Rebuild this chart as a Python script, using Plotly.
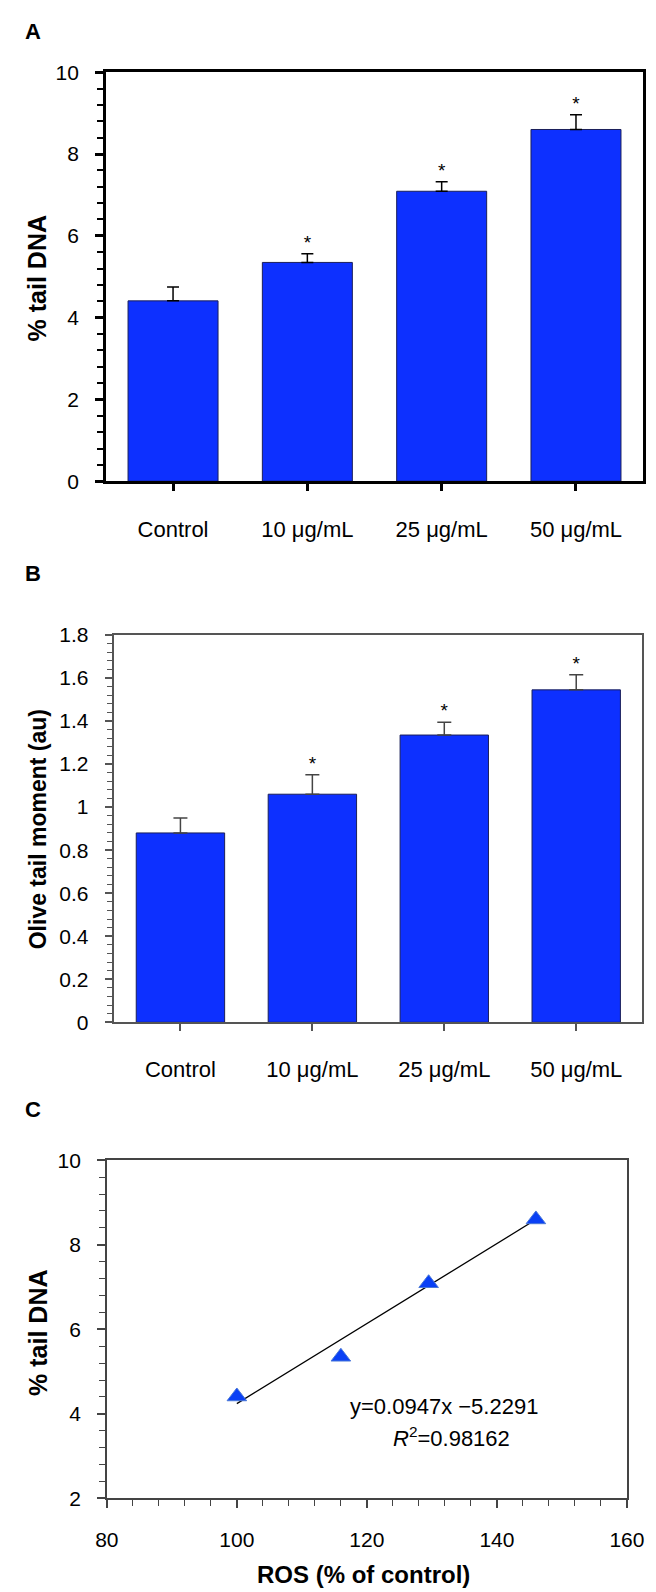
import plotly.graph_objects as go

W, H = 656, 1592

# --- data ---
categories = ['Control', '10 μg/mL', '25 μg/mL', '50 μg/mL']
tail_dna = [4.41, 5.35, 7.09, 8.60]
tail_dna_err = [0.34, 0.21, 0.23, 0.36]
olive_moment = [0.88, 1.06, 1.335, 1.545]
olive_moment_err = [0.07, 0.09, 0.06, 0.07]
significant = [False, True, True, True]

ros = [100, 116, 129.5, 146]
slope, intercept = 0.0947, -5.2291
r_squared = 0.98162

BAR_BLUE = '#0d30ff'
FONT = 'Liberation Sans, Arial, sans-serif'


def px_x(x):
    return x / W


def px_y(y):
    return 1 - y / H


fig = go.Figure()

# panel A
fig.add_trace(go.Bar(
    x=categories, y=tail_dna, xaxis='x', yaxis='y',
    marker=dict(color=BAR_BLUE, line=dict(color='#1a1f5a', width=1)),
    error_y=dict(type='data', array=tail_dna_err, symmetric=False,
                 color='black', thickness=1.5, width=6),
    showlegend=False,
))
star_x = [c for c, s in zip(categories, significant) if s]
fig.add_trace(go.Scatter(
    x=star_x,
    y=[v + e for v, e, s in zip(tail_dna, tail_dna_err, significant) if s],
    mode='text', text=['*'] * len(star_x), textposition='top center',
    textfont=dict(size=19, color='black', family=FONT),
    xaxis='x', yaxis='y', showlegend=False,
))

# panel B
fig.add_trace(go.Bar(
    x=categories, y=olive_moment, xaxis='x2', yaxis='y2',
    marker=dict(color=BAR_BLUE, line=dict(color='#1a1f5a', width=1)),
    error_y=dict(type='data', array=olive_moment_err, symmetric=False,
                 color='#444444', thickness=1.5, width=7),
    showlegend=False,
))
fig.add_trace(go.Scatter(
    x=star_x,
    y=[v + e for v, e, s in zip(olive_moment, olive_moment_err, significant) if s],
    mode='text', text=['*'] * len(star_x), textposition='top center',
    textfont=dict(size=19, color='black', family=FONT),
    xaxis='x2', yaxis='y2', showlegend=False,
))

# panel C
line_x = [ros[0], ros[-1]]
fig.add_trace(go.Scatter(
    x=line_x, y=[slope * x + intercept for x in line_x],
    mode='lines', line=dict(color='black', width=1.3),
    xaxis='x3', yaxis='y3', showlegend=False,
))
fig.add_trace(go.Scatter(
    x=ros, y=tail_dna, mode='markers',
    marker=dict(symbol='triangle-up', size=17, color='#0a40f5',
                line=dict(color='#4a78d8', width=1)),
    xaxis='x3', yaxis='y3', showlegend=False,
))

tick_font = dict(family=FONT, size=21, color='black')

common_y = dict(ticks='outside', ticklen=8, showgrid=False, zeroline=False,
                showline=True, mirror=True, tickfont=tick_font, ticklabelstandoff=12)
common_x = dict(ticks='outside', ticklen=7, showgrid=False, zeroline=False,
                showline=True, mirror=True, tickfont=dict(family=FONT, size=22, color='black'))

fig.update_layout(
    width=W, height=H,
    margin=dict(l=0, r=0, t=0, b=0),
    paper_bgcolor='white', plot_bgcolor='white',
    bargap=0.33,
    font=dict(family=FONT, color='black'),
    xaxis=dict(domain=[px_x(90), px_x(653)], anchor='y', linecolor='black', linewidth=2.5,
               tickcolor='black', tickwidth=2.5, ticklabelstandoff=20, **common_x),
    yaxis=dict(domain=[px_y(468), px_y(53)], anchor='x', range=[0, 10], dtick=2,
               linecolor='black', linewidth=2.5, tickcolor='black', tickwidth=2.5,
               minor=dict(dtick=0.4, ticks='outside', ticklen=6, tickcolor='black', tickwidth=2),
               **common_y),
    xaxis2=dict(domain=[px_x(99), px_x(652)], anchor='y2', linecolor='#555555', linewidth=1.5,
                tickcolor='#555555', tickwidth=1.5, ticklabelstandoff=20, **common_x),
    yaxis2=dict(domain=[px_y(1017), px_y(624)], anchor='x2', range=[0, 1.8],
                tickvals=[0, 0.2, 0.4, 0.6, 0.8, 1, 1.2, 1.4, 1.6, 1.8],
                ticktext=['0', '0.2', '0.4', '0.6', '0.8', '1', '1.2', '1.4', '1.6', '1.8'],
                linecolor='#555555', linewidth=1.5, tickcolor='#555555', tickwidth=1.5,
                minor=dict(dtick=0.04, ticks='outside', ticklen=6, tickcolor='#555555', tickwidth=1.2),
                **common_y),
    xaxis3=dict(domain=[px_x(91), px_x(636)], anchor='y3', range=[80, 160], dtick=20,
                linecolor='#444444', linewidth=1.5, tickcolor='#444444', tickwidth=1.5,
                ticklen=8, ticks='outside', showgrid=False, zeroline=False, showline=True,
                mirror=True, tickfont=tick_font, ticklabelstandoff=14,
                minor=dict(dtick=4, ticks='outside', ticklen=6, tickcolor='#444444', tickwidth=1.2)),
    yaxis3=dict(domain=[px_y(1500), px_y(1157)], anchor='x3', range=[2, 10], dtick=2,
                linecolor='#444444', linewidth=1.5, tickcolor='#444444', tickwidth=1.5,
                minor=dict(dtick=0.4, ticks='outside', ticklen=6, tickcolor='#444444', tickwidth=1.2),
                **common_y),
)

annotations = [
    ('A', 3, 12, 22, True, 0, 'left'),
    ('B', 3, 562, 22, True, 0, 'left'),
    ('C', 3, 1105, 22, True, 0, 'left'),
    ('% tail DNA', 18, 262, 25, True, -90, 'center'),
    ('Olive tail moment (au)', 19, 821, 23, True, -90, 'center'),
    ('% tail DNA', 19, 1332, 25, True, -90, 'center'),
    ('ROS (% of control)', 360, 1577, 24, True, 0, 'center'),
    ('y=0.0947x −5.2291', 444, 1407, 22, False, 0, 'center'),
    ('<i>R</i><sup>2</sup>=%.5f' % r_squared, 452, 1438, 22, False, 0, 'center'),
]
for text, x, y, size, bold, angle, xanchor in annotations:
    fig.add_annotation(
        text='<b>%s</b>' % text if bold else text,
        x=px_x(x), y=px_y(y), xref='paper', yref='paper',
        xanchor=xanchor, yanchor='middle', showarrow=False, textangle=angle,
        font=dict(family=FONT, size=size, color='black'),
    )

fig.write_html('out.html')
